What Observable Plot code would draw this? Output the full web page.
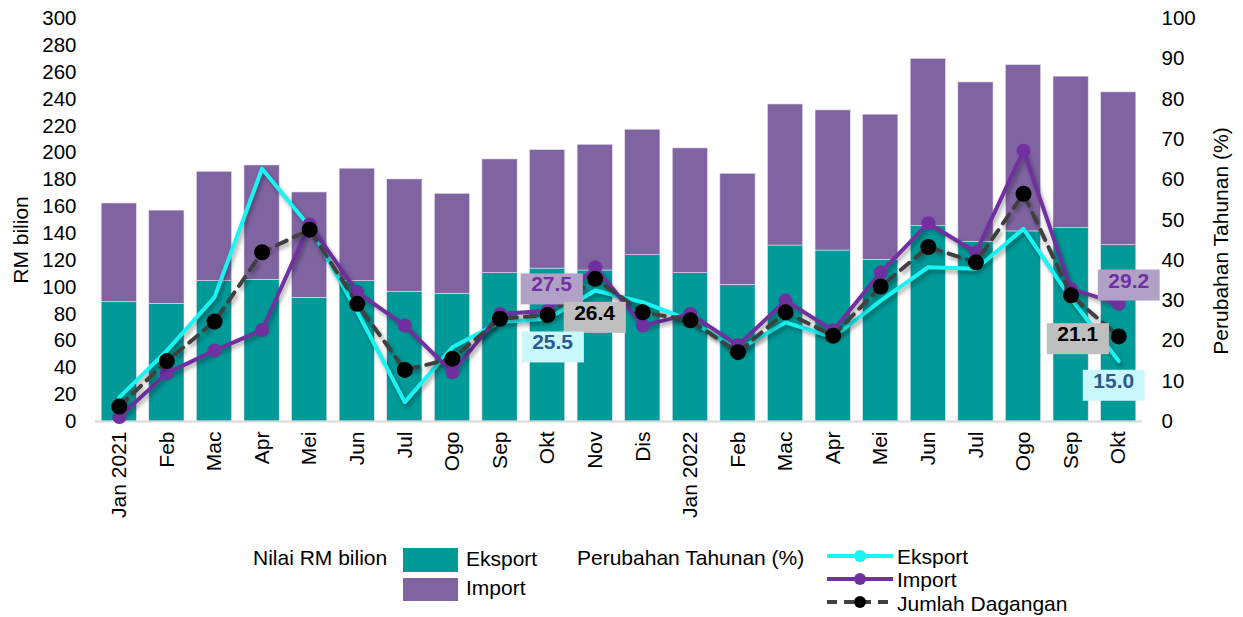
<!DOCTYPE html>
<html><head><meta charset="utf-8">
<script src="https://cdn.jsdelivr.net/npm/d3@7"></script>
<script src="https://cdn.jsdelivr.net/npm/@observablehq/plot@0.6"></script>
<style>
body{margin:0;background:#fff;font-family:"Liberation Sans",Arial,sans-serif;}
#wrap{position:relative;width:1243px;height:617px;overflow:hidden;}
.lg{position:absolute;font-size:21px;color:#000;white-space:nowrap;line-height:1;}
.sw{position:absolute;}
</style></head><body><div id="wrap"></div>
<script>
// ---- data ----
const months = ["Jan 2021","Feb","Mac","Apr","Mei","Jun","Jul","Ogo","Sep","Okt","Nov","Dis",
                "Jan 2022","Feb","Mac","Apr","Mei","Jun","Jul","Ogo","Sep","Okt"];
const eksport = [88.8,87.6,104.5,105.5,92.1,104.5,96.6,95.1,110.4,113.8,112.4,123.8,
                 110.4,101.7,131.0,127.3,120.4,145.4,133.8,141.5,143.9,131.3];
const importVal = [73.5,69.4,81.4,85.1,78.4,83.7,83.6,74.4,84.7,88.2,93.6,93.4,
                   92.9,82.7,105.0,104.3,108.0,124.6,118.6,123.8,112.8,113.7];
const eksportPct = [6.0,17.6,30.8,62.7,48.3,27.3,4.8,18.4,24.7,25.5,32.5,29.6,
                    25.1,17.8,24.6,20.9,30.0,38.3,37.9,47.8,30.5,15.0];
const importPct = [1.1,12.0,17.6,22.7,48.9,32.1,23.8,12.2,26.7,27.5,38.3,23.8,
                   26.7,18.9,30.0,22.6,37.0,49.2,42.0,67.2,32.9,29.2];
const jumlahPct = [3.7,15.0,24.8,42.0,47.6,29.2,12.8,15.6,25.5,26.4,35.4,27.1,
                   25.1,17.2,27.1,21.3,33.5,43.3,39.5,56.5,31.3,21.1];
const leftTicks = d3.range(0, 301, 20);
const rightTicks = d3.range(0, 101, 10);
const seriesNames = ["Eksport","Import"];

// ---- derived tables ----
const K = 300 / 100; // right axis (%) mapped onto the left scale
const bars = months.flatMap((m, i) => [
  {i, series: "Eksport", v: eksport[i]},
  {i, series: "Import", v: importVal[i]}
]);
const pct = arr => arr.map((v, i) => ({i, v}));
const pick = (arr, i) => [{i, v: arr[i]}];
const yP = d => d.v * K;

const C_EKS = "#009a99", C_IMP = "#8064a2", C_LEKS = "#19f5f3", C_LIMP = "#7030a0";

const chart = Plot.plot({
  width: 1243, height: 530,
  marginLeft: 95, marginRight: 101, marginTop: 18, marginBottom: 109,
  style: {fontFamily: "'Liberation Sans', Arial, sans-serif", fontSize: "20.5px", color: "#000", background: "transparent", overflow: "visible"},
  x: {type: "band", domain: d3.range(months.length), paddingInner: 0.26, paddingOuter: 0.13, round: false},
  y: {domain: [0, 300]},
  color: {domain: seriesNames, range: [C_EKS, C_IMP]},
  marks: [
    Plot.barY(bars, {x: "i", y: "v", fill: "series", stroke: "#e6e0ef", strokeWidth: 0.6}),
    Plot.ruleY([0], {stroke: "#d9d9d9", strokeWidth: 2}),
    Plot.axisY(leftTicks, {anchor: "left", tickSize: 0, tickPadding: 19, label: null}),
    Plot.axisY(rightTicks.map(t => t * K), {anchor: "right", tickSize: 0, tickPadding: 19, tickFormat: d => Math.round(d / K), label: null}),
    Plot.axisX({tickRotate: -90, tickSize: 0, tickPadding: 10, fontSize: 21, tickFormat: i => months[i], label: null}),
    Plot.line(pct(eksportPct), {x: "i", y: yP, stroke: C_LEKS, strokeWidth: 4, ariaDescription: "shadow"}),
    Plot.line(pct(importPct), {x: "i", y: yP, stroke: C_LIMP, strokeWidth: 4, ariaDescription: "shadow"}),
    Plot.dot(pct(importPct), {x: "i", y: yP, r: 7, fill: C_LIMP}),
    Plot.line(pct(jumlahPct), {x: "i", y: yP, stroke: "#404040", strokeWidth: 4, strokeDasharray: "11 8", ariaDescription: "shadow"}),
    Plot.dot(pct(jumlahPct), {x: "i", y: yP, r: 8, fill: "#000"}),
    // data labels
    Plot.text(pick(importPct, 9), {x: "i", y: yP, text: d => d.v.toFixed(1), dx: 4, dy: -26, fill: "#7030a0", fontWeight: "bold", fontSize: 21, ariaDescription: "lbl-imp"}),
    Plot.text(pick(jumlahPct, 9), {x: "i", y: yP, text: d => d.v.toFixed(1), dx: 47, dy: -2, fill: "#000", fontWeight: "bold", fontSize: 21, ariaDescription: "lbl-jum"}),
    Plot.text(pick(eksportPct, 9), {x: "i", y: yP, text: d => d.v.toFixed(1), dx: 5, dy: 24, fill: "#2d5a8c", fontWeight: "bold", fontSize: 21, ariaDescription: "lbl-eks"}),
    Plot.text(pick(importPct, 21), {x: "i", y: yP, text: d => d.v.toFixed(1), dx: 10, dy: -23, fill: "#7030a0", fontWeight: "bold", fontSize: 21, ariaDescription: "lbl-imp"}),
    Plot.text(pick(jumlahPct, 21), {x: "i", y: yP, text: d => d.v.toFixed(1), dx: -41, dy: -2, fill: "#000", fontWeight: "bold", fontSize: 21, ariaDescription: "lbl-jum"}),
    Plot.text(pick(eksportPct, 21), {x: "i", y: yP, text: d => d.v.toFixed(1), dx: -5, dy: 20, fill: "#2d5a8c", fontWeight: "bold", fontSize: 21, ariaDescription: "lbl-eks"})
  ]
});

const wrap = document.getElementById("wrap");
wrap.appendChild(chart);
const svg = d3.select(chart);

// shadows for lines
svg.selectAll("g[aria-description=shadow]").style("filter", "drop-shadow(2px 3px 2px rgba(0,0,0,0.35))");

// label backgrounds
const bg = {"lbl-imp": "#b2a1c7", "lbl-jum": "#bfbfbf", "lbl-eks": "#c8f8fb"};
Object.entries(bg).forEach(([k, col]) => {
  svg.selectAll(`g[aria-description=${k}]`).each(function () {
    const g = this;
    d3.select(g).selectAll("text").each(function () {
      const b = this.getBBox();
      const t = this.getAttribute("transform");
      const r = document.createElementNS("http://www.w3.org/2000/svg", "rect");
      r.setAttribute("x", b.x - 10.5);
      r.setAttribute("y", b.y + 1);
      r.setAttribute("width", b.width + 21);
      r.setAttribute("height", b.height + 8);
      if (t) r.setAttribute("transform", t);
      r.setAttribute("fill", col);
      g.insertBefore(r, this);
    });
  });
});

// axis titles
svg.append("text").attr("transform", "translate(20,240) rotate(-90)")
  .attr("text-anchor", "middle").attr("dominant-baseline", "central")
  .attr("font-size", 21).attr("fill", "#000").text("RM bilion");
svg.append("text").attr("transform", "translate(1220,241) rotate(-90)")
  .attr("text-anchor", "middle").attr("dominant-baseline", "central")
  .attr("font-size", 21).attr("fill", "#000").text("Perubahan Tahunan (%)");

// legend (HTML)
function lbl(text, left, top) {
  const d = document.createElement("div");
  d.className = "lg"; d.style.left = left + "px"; d.style.top = top + "px";
  d.textContent = text; wrap.appendChild(d);
}
function box(left, top, w, h, col) {
  const d = document.createElement("div");
  d.className = "sw"; Object.assign(d.style, {left: left + "px", top: top + "px", width: w + "px", height: h + "px", background: col});
  wrap.appendChild(d);
}
function lineSw(top, col, dash, dotCol, r) {
  const s = d3.create("svg").attr("width", 70).attr("height", 16)
    .style("position", "absolute").style("left", "825px").style("top", (top - 8) + "px");
  s.append("line").attr("x1", 2).attr("x2", 68).attr("y1", 8).attr("y2", 8)
    .attr("stroke", col).attr("stroke-width", 4).attr("stroke-dasharray", dash);
  s.append("circle").attr("cx", 35).attr("cy", 8).attr("r", r).attr("fill", dotCol);
  wrap.appendChild(s.node());
}
lbl("Nilai RM bilion", 253, 547);
box(403, 548, 55, 24, C_EKS); lbl(seriesNames[0], 466, 548);
box(403, 578, 55, 23, C_IMP); lbl(seriesNames[1], 466, 577);
lbl("Perubahan Tahunan (%)", 577, 547);
lineSw(556, C_LEKS, null, C_LEKS, 6); lbl(seriesNames[0], 897, 546);
lineSw(579, C_LIMP, null, C_LIMP, 6); lbl(seriesNames[1], 897, 569);
lineSw(602, "#404040", "10 7", "#000", 6); lbl("Jumlah Dagangan", 897, 593);
</script></body></html>
